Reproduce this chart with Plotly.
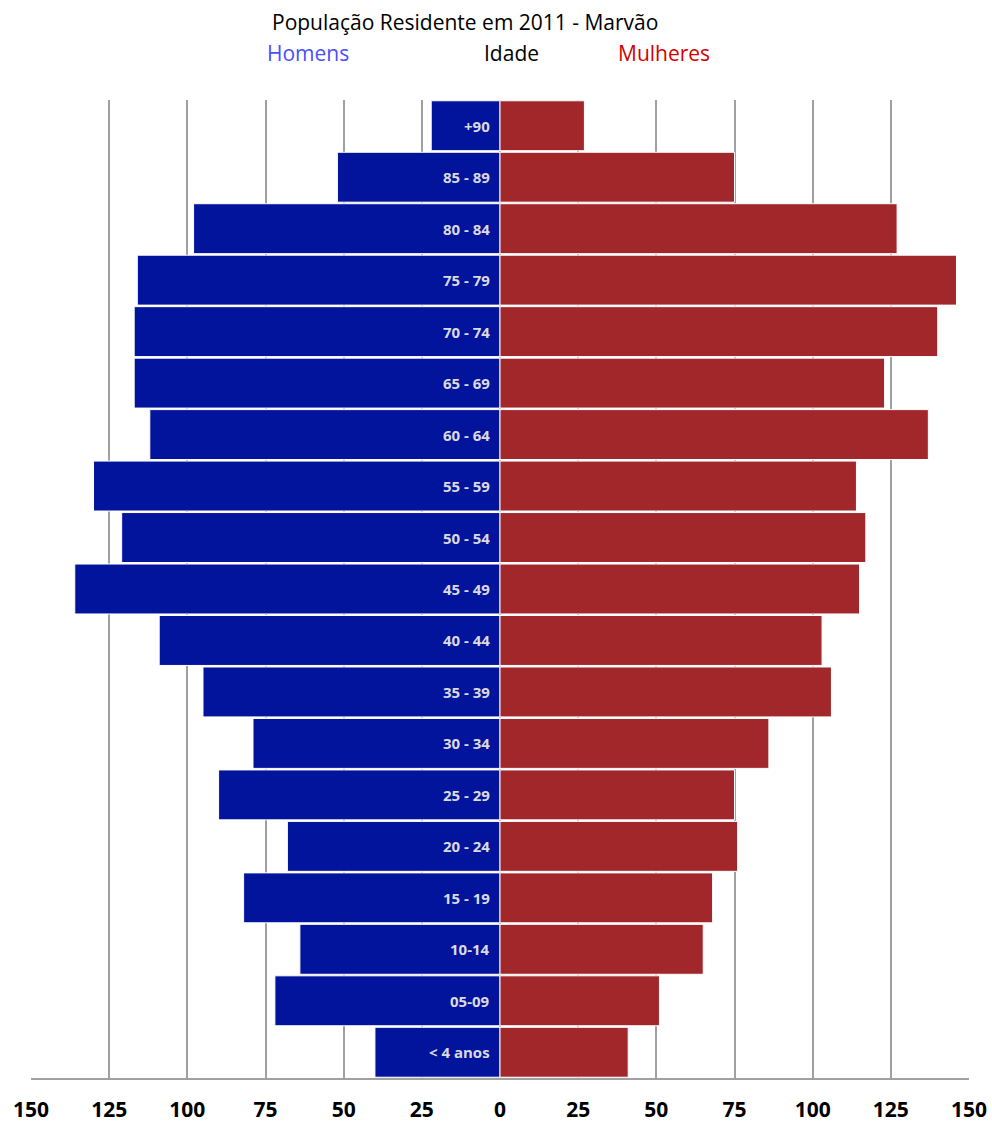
import plotly.graph_objects as go

# Age groups, bottom to top
idades = ["< 4 anos", "05-09", "10-14", "15 - 19", "20 - 24", "25 - 29", "30 - 34",
          "35 - 39", "40 - 44", "45 - 49", "50 - 54", "55 - 59", "60 - 64",
          "65 - 69", "70 - 74", "75 - 79", "80 - 84", "85 - 89", "+90"]
homens = [40, 72, 64, 82, 68, 90, 79, 95, 109, 136, 121, 130, 112, 117, 117, 116, 98, 52, 22]
mulheres = [41, 51, 65, 68, 76, 75, 86, 106, 103, 115, 117, 114, 137, 123, 140, 146, 127, 75, 27]

tick_vals = [-150, -125, -100, -75, -50, -25, 0, 25, 50, 75, 100, 125, 150]
tick_text = [str(abs(v)) for v in tick_vals]

AZUL = "#02139c"
VERMELHO = "#a2272a"
FONTE = "Open Sans"

W, H = 992, 1122
L, R, T, B = 31, 23, 100, 44
pw, ph = W - L - R, H - T - B


def px_x(px):
    """Page pixel column -> plot-area paper fraction."""
    return (px - L) / pw


def px_y(py):
    """Page pixel row -> plot-area paper fraction."""
    return 1 + (T - py) / ph


fig = go.Figure()
fig.add_trace(go.Bar(
    y=idades, x=[-v for v in homens], orientation="h", name="Homens",
    marker=dict(color=AZUL, line=dict(color="white", width=1)),
    hoverinfo="skip",
))
fig.add_trace(go.Bar(
    y=idades, x=mulheres, orientation="h", name="Mulheres",
    marker=dict(color=VERMELHO, line=dict(color="white", width=1)),
    hoverinfo="skip",
))

# Age-group labels inside the men's bars, right next to the centre line
# (placed by category index so that "+90" is not read as a number)
for i, cat in enumerate(idades):
    fig.add_annotation(
        x=0, y=i, xref="x", yref="y", text=cat, showarrow=False,
        xanchor="right", xshift=-8,
        font=dict(family=FONTE, size=15, color="#dadae2", weight="bold"),
    )

# Header: title and column captions
fig.add_annotation(text="População Residente em 2011 - Marvão", x=px_x(465), y=px_y(22),
                   xref="paper", yref="paper", showarrow=False,
                   xanchor="center", yanchor="middle",
                   font=dict(family=FONTE, size=21, color="black"))
header = [("Homens", 308, "#4c4cff"), ("Idade", 511, "black"), ("Mulheres", 664, "#d40000")]
for txt, px, col in header:
    fig.add_annotation(text=txt, x=px_x(px), y=px_y(53), xref="paper", yref="paper",
                       showarrow=False, xanchor="center", yanchor="middle",
                       font=dict(family=FONTE, size=21, color=col))

fig.update_layout(
    barmode="relative",
    bargap=0.03,
    width=W, height=H,
    margin=dict(l=L, r=R, t=T, b=B, autoexpand=False),
    paper_bgcolor="white", plot_bgcolor="white",
    showlegend=False,
    font=dict(family=FONTE),
)
fig.update_xaxes(
    range=[-150, 150], tickvals=tick_vals, ticktext=tick_text,
    showgrid=True, gridcolor="#a0a0a0", gridwidth=1.5,
    zeroline=False, showline=True, linecolor="#a0a0a0", linewidth=1.5,
    ticks="", ticklabelstandoff=12, automargin=False,
    tickfont=dict(family=FONTE, size=21, color="black", weight="bold"),
)
fig.update_yaxes(
    range=[-0.5, 18.5], showticklabels=False, showgrid=False, zeroline=False,
    showline=False, ticks="", automargin=False,
)

fig.write_html("out.html")
